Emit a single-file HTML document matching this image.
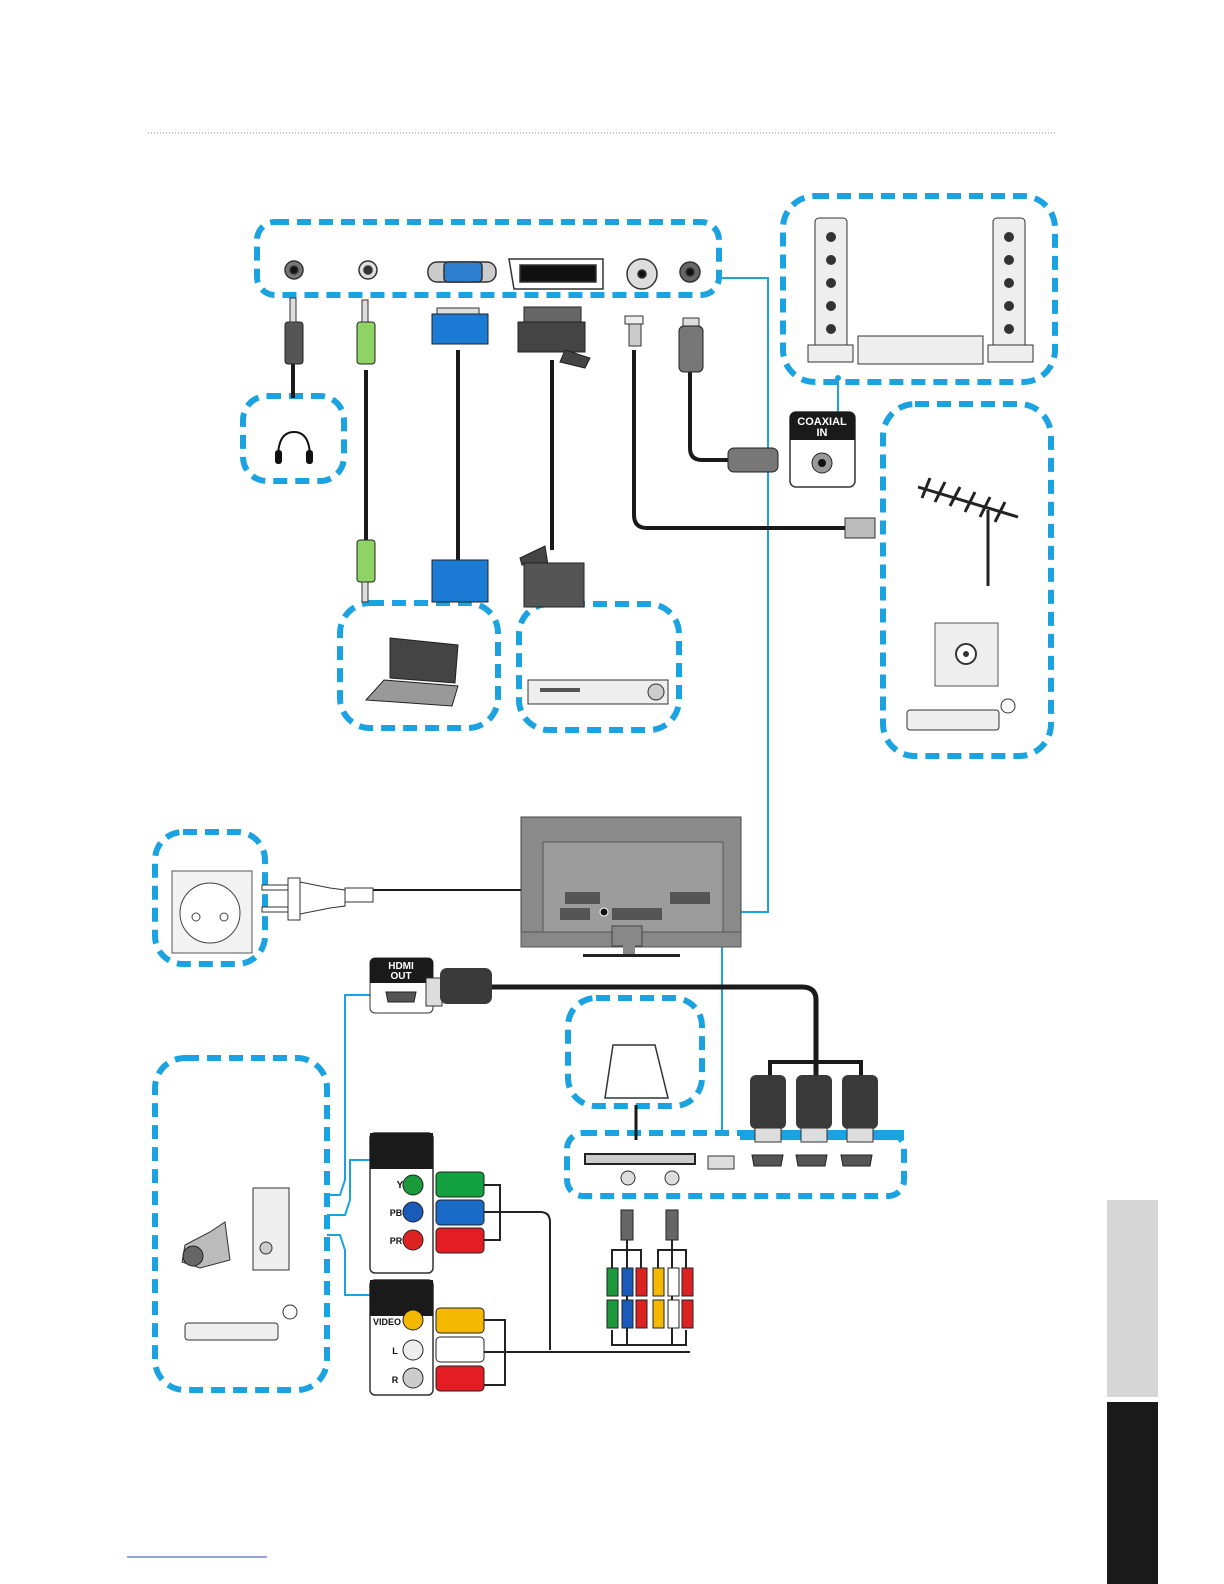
<!DOCTYPE html>
<html><head><meta charset="utf-8"><style>
html,body{margin:0;padding:0;background:#fff}
svg{display:block}
text{font-family:"Liberation Sans",sans-serif;font-weight:bold}
</style></head><body>
<svg width="1224" height="1584" viewBox="0 0 1224 1584" xmlns="http://www.w3.org/2000/svg">
<line x1="148" y1="133" x2="1056" y2="133" stroke="#888" stroke-width="1" stroke-dasharray="1,2"/>
<!-- side tabs -->
<rect x="1107" y="1200" width="51" height="197" fill="#d6d6d6"/>
<rect x="1107" y="1402" width="51" height="182" fill="#1a1a1a"/>
<line x1="127" y1="1557" x2="267" y2="1557" stroke="#2a4ab0" stroke-width="1"/>

<g fill="none" stroke="#1aa3e0" stroke-width="6" stroke-dasharray="14,8">
<rect x="257" y="222" width="462" height="73" rx="18"/>
<rect x="783" y="196" width="272" height="186" rx="32"/>
<rect x="243" y="396" width="101" height="85" rx="24"/>
<rect x="340" y="603" width="158" height="125" rx="30"/>
<rect x="519" y="604" width="160" height="126" rx="30"/>
<rect x="883" y="404" width="168" height="352" rx="32"/>
<rect x="155" y="832" width="110" height="132" rx="28"/>
<rect x="568" y="998" width="134" height="108" rx="28"/>
<rect x="155" y="1058" width="172" height="332" rx="30"/>
<rect x="567" y="1133" width="337" height="63" rx="16"/>
</g>
<rect x="740" y="1130" width="164" height="10" fill="#1aa3e0"/>

<!-- thin blue connectors -->
<g fill="none" stroke="#1aa3e0" stroke-width="2">
<polyline points="720,278 768,278 768,912 722,912"/>
<line x1="838" y1="378" x2="838" y2="412"/>
<line x1="722" y1="912" x2="722" y2="1135"/>
<polyline points="327,1195 340,1195 345,1180 345,995 370,995"/>
<polyline points="327,1215 345,1215 350,1200 350,1160 370,1160"/>
<polyline points="327,1235 340,1235 345,1250 345,1295 370,1295"/>
<rect x="675" y="910" width="48" height="16" stroke-dasharray="5,3" stroke-width="3"/>
<rect x="713" y="855" width="14" height="55" stroke-dasharray="5,3" stroke-width="3"/>
</g>
<circle cx="838" cy="378" r="3" fill="#1aa3e0"/>

<!-- top ports -->
<g stroke="#333" stroke-width="1.5">
<circle cx="294" cy="270" r="9" fill="#777"/><circle cx="294" cy="270" r="4" fill="#111"/>
<circle cx="368" cy="270" r="9" fill="#ddd"/><circle cx="368" cy="270" r="4" fill="#333"/>
<rect x="428" y="262" width="68" height="20" rx="9" fill="#ccc"/>
<rect x="444" y="262" width="38" height="20" rx="4" fill="#2f7fd0"/>
<path d="M509,259 L603,259 L603,289 L514,289 Z" fill="#fff"/>
<rect x="520" y="265" width="76" height="17" fill="#111"/>
<circle cx="642" cy="274" r="15" fill="#ddd"/><circle cx="642" cy="274" r="4" fill="#111"/>
<circle cx="690" cy="272" r="10" fill="#666"/><circle cx="690" cy="272" r="4" fill="#111"/>
</g>

<!-- cables top -->
<g stroke="#1a1a1a" stroke-width="4" fill="none">
<line x1="293" y1="360" x2="293" y2="398"/>
<line x1="366" y1="370" x2="366" y2="540"/>
<line x1="458" y1="350" x2="458" y2="560"/>
<line x1="552" y1="360" x2="552" y2="550"/>
<path d="M634,350 L634,515 Q634,528 647,528 L845,528"/>
<path d="M690,370 L690,448 Q690,460 702,460 L730,460"/>
<line x1="370" y1="890" x2="598" y2="890" stroke-width="2"/>
<path d="M598,890 Q604,890 604,896 L604,912" stroke-width="2"/>
<path d="M490,987 L802,987 Q816,987 816,1000 L816,1080" stroke-width="5"/>
<path d="M770,1080 L770,1062 L861,1062 L861,1080" stroke-width="4"/>
<line x1="636" y1="1105" x2="636" y2="1140" stroke-width="3"/>
</g>
<!-- headphone jack -->
<rect x="285" y="322" width="18" height="42" rx="3" fill="#555" stroke="#222"/>
<rect x="290" y="298" width="6" height="24" fill="#ddd" stroke="#333"/>
<!-- green jacks -->
<rect x="357" y="322" width="18" height="42" rx="3" fill="#8fd364" stroke="#222"/>
<rect x="362" y="300" width="6" height="22" fill="#ddd" stroke="#333"/>
<rect x="357" y="540" width="18" height="42" rx="3" fill="#8fd364" stroke="#222"/>
<rect x="362" y="582" width="6" height="20" fill="#ddd" stroke="#333"/>
<!-- VGA -->
<rect x="437" y="308" width="42" height="8" fill="#ddd" stroke="#333"/>
<rect x="432" y="314" width="56" height="30" fill="#1a7ad4" stroke="#222"/>
<rect x="432" y="560" width="56" height="42" fill="#1a7ad4" stroke="#222"/>
<!-- SCART -->
<rect x="524" y="307" width="57" height="18" fill="#666" stroke="#222"/>
<rect x="518" y="322" width="67" height="30" fill="#444" stroke="#222"/>
<polygon points="565,350 590,358 585,368 560,362" fill="#444" stroke="#222"/>
<polygon points="520,558 545,546 548,565 522,565" fill="#444" stroke="#222"/>
<rect x="524" y="563" width="60" height="44" fill="#555" stroke="#222"/>
<!-- coax plugs -->
<rect x="629" y="316" width="12" height="30" fill="#ccc" stroke="#333"/>
<rect x="625" y="316" width="18" height="8" fill="#eee" stroke="#333"/>
<rect x="683" y="318" width="16" height="12" fill="#ddd" stroke="#333"/>
<rect x="679" y="326" width="24" height="46" rx="5" fill="#777" stroke="#222"/>
<rect x="728" y="448" width="50" height="24" rx="6" fill="#777" stroke="#222"/>
<rect x="845" y="518" width="30" height="20" fill="#bbb" stroke="#333"/>
<!-- coaxial in box -->
<rect x="790" y="412" width="65" height="75" rx="6" fill="#fff" stroke="#333" stroke-width="1.5"/>
<path d="M790,418 Q790,412 796,412 L849,412 Q855,412 855,418 L855,440 L790,440 Z" fill="#1a1a1a"/>
<text x="822" y="425" font-size="11" fill="#fff" text-anchor="middle">COAXIAL</text>
<text x="822" y="436" font-size="11" fill="#fff" text-anchor="middle">IN</text>
<circle cx="822" cy="463" r="10" fill="#999" stroke="#222"/><circle cx="822" cy="463" r="4" fill="#111"/>

<!-- headphones -->
<path d="M278,458 Q278,432 294,432 Q310,432 310,458" fill="none" stroke="#111" stroke-width="2"/>
<rect x="275" y="450" width="7" height="14" rx="3" fill="#111"/><rect x="306" y="450" width="7" height="14" rx="3" fill="#111"/>

<!-- speakers -->
<g stroke="#333" fill="#eee">
<rect x="815" y="218" width="32" height="130" rx="4"/>
<rect x="993" y="218" width="32" height="130" rx="4"/>
<rect x="808" y="345" width="45" height="17"/>
<rect x="988" y="345" width="45" height="17"/>
<rect x="858" y="336" width="125" height="28"/>
</g>
<g fill="#333">
<circle cx="831" cy="237" r="5"/><circle cx="831" cy="260" r="5"/><circle cx="831" cy="283" r="5"/><circle cx="831" cy="306" r="5"/><circle cx="831" cy="329" r="5"/>
<circle cx="1009" cy="237" r="5"/><circle cx="1009" cy="260" r="5"/><circle cx="1009" cy="283" r="5"/><circle cx="1009" cy="306" r="5"/><circle cx="1009" cy="329" r="5"/>
</g>

<!-- laptop -->
<polygon points="390,638 458,645 455,683 390,678" fill="#444" stroke="#222"/>
<polygon points="384,680 458,686 452,706 366,700" fill="#999" stroke="#222"/>
<!-- dvd -->
<rect x="528" y="680" width="140" height="24" fill="#eee" stroke="#333"/>
<circle cx="656" cy="692" r="8" fill="#ccc" stroke="#333"/>
<rect x="540" y="688" width="40" height="4" fill="#555"/>

<!-- antenna -->
<g stroke="#222" stroke-width="3">
<line x1="918" y1="487" x2="1018" y2="517"/>
<line x1="988" y1="510" x2="988" y2="586"/>
<line x1="930" y1="478" x2="922" y2="498"/><line x1="945" y1="482" x2="935" y2="502"/><line x1="960" y1="487" x2="950" y2="506"/><line x1="975" y1="492" x2="965" y2="512"/><line x1="990" y1="497" x2="980" y2="517"/><line x1="1005" y1="502" x2="995" y2="522"/>
</g>
<rect x="935" y="623" width="63" height="63" fill="#eee" stroke="#555"/>
<circle cx="966" cy="654" r="10" fill="#fff" stroke="#333" stroke-width="2"/><circle cx="966" cy="654" r="3" fill="#333"/>
<rect x="907" y="710" width="92" height="20" rx="3" fill="#eee" stroke="#333"/>
<circle cx="1008" cy="706" r="7" fill="none" stroke="#333"/>

<!-- socket -->
<rect x="172" y="871" width="80" height="82" fill="#f2f2f2" stroke="#555"/>
<circle cx="210" cy="913" r="30" fill="#fff" stroke="#444"/>
<circle cx="196" cy="917" r="4" fill="none" stroke="#444"/><circle cx="224" cy="917" r="4" fill="none" stroke="#444"/>
<!-- plug -->
<rect x="262" y="885" width="30" height="5" fill="#fff" stroke="#333"/>
<rect x="262" y="907" width="30" height="5" fill="#fff" stroke="#333"/>
<rect x="288" y="878" width="12" height="42" fill="#fff" stroke="#333"/>
<path d="M300,882 L330,888 L345,890 L345,906 L330,908 L300,914 Z" fill="#fff" stroke="#333"/>
<rect x="345" y="888" width="28" height="14" fill="#fff" stroke="#333"/>

<!-- TV -->
<rect x="521" y="817" width="220" height="130" fill="#8a8a8a" stroke="#444"/>
<rect x="543" y="842" width="180" height="92" fill="#9c9c9c" stroke="#555"/>
<rect x="521" y="932" width="220" height="15" fill="#888" stroke="#555"/>
<rect x="612" y="926" width="30" height="20" fill="#888" stroke="#444"/>
<rect x="623" y="945" width="12" height="10" fill="#888"/>
<rect x="583" y="954" width="97" height="3" fill="#222"/>
<rect x="560" y="908" width="30" height="12" fill="#555"/><rect x="612" y="908" width="50" height="12" fill="#555"/><rect x="670" y="892" width="40" height="12" fill="#555"/><rect x="565" y="892" width="35" height="12" fill="#555"/>
<circle cx="604" cy="912" r="4" fill="#111" stroke="#fff"/>

<!-- HDMI OUT -->
<rect x="370" y="958" width="63" height="55" rx="5" fill="#fff" stroke="#333"/>
<path d="M370,963 Q370,958 375,958 L428,958 Q433,958 433,963 L433,983 L370,983 Z" fill="#1a1a1a"/>
<text x="401" y="969" font-size="10" fill="#fff" text-anchor="middle">HDMI</text>
<text x="401" y="979" font-size="10" fill="#fff" text-anchor="middle">OUT</text>
<path d="M386,992 L416,992 L414,1002 L388,1002 Z" fill="#555" stroke="#222"/>
<rect x="426" y="978" width="16" height="28" fill="#ddd" stroke="#333"/>
<rect x="440" y="968" width="52" height="36" rx="7" fill="#3a3a3a"/>

<!-- 3 HDMI plugs -->
<g>
<rect x="750" y="1075" width="36" height="54" rx="6" fill="#3a3a3a"/><rect x="755" y="1128" width="26" height="14" fill="#ddd" stroke="#333"/>
<rect x="796" y="1075" width="36" height="54" rx="6" fill="#3a3a3a"/><rect x="801" y="1128" width="26" height="14" fill="#ddd" stroke="#333"/>
<rect x="842" y="1075" width="36" height="54" rx="6" fill="#3a3a3a"/><rect x="847" y="1128" width="26" height="14" fill="#ddd" stroke="#333"/>
</g>
<!-- card -->
<polygon points="613,1045 655,1045 668,1098 605,1098" fill="#fff" stroke="#333" stroke-width="1.5"/>
<!-- bottom panel ports -->
<rect x="585" y="1154" width="110" height="10" fill="#ccc" stroke="#222" stroke-width="2"/>
<circle cx="628" cy="1178" r="7" fill="#ddd" stroke="#333"/><circle cx="672" cy="1178" r="7" fill="#ddd" stroke="#333"/>
<rect x="708" y="1156" width="26" height="13" fill="#ddd" stroke="#333"/>
<path d="M752,1155 L783,1155 L781,1166 L754,1166 Z" fill="#555" stroke="#222"/>
<path d="M796,1155 L827,1155 L825,1166 L798,1166 Z" fill="#555" stroke="#222"/>
<path d="M841,1155 L872,1155 L870,1166 L843,1166 Z" fill="#555" stroke="#222"/>
<!-- jack splitters -->
<rect x="621" y="1210" width="12" height="30" fill="#666" stroke="#222"/>
<rect x="666" y="1210" width="12" height="30" fill="#666" stroke="#222"/>
<g stroke="#222" stroke-width="2" fill="none">
<path d="M612,1270 L612,1250 L641,1250 L641,1270 M627,1240 L627,1345"/>
<path d="M658,1270 L658,1250 L686,1250 L686,1270 M672,1240 L672,1345"/>
<path d="M612,1330 L612,1345 L686,1345 L686,1330"/>
<path d="M484,1185 L500,1185 L500,1240 L484,1240 M484,1212 L540,1212 Q550,1212 550,1222 L550,1350"/>
<path d="M484,1320 L505,1320 L505,1385 L484,1385 M484,1352 L690,1352"/>
</g>
<g stroke="#222">
<rect x="607" y="1268" width="11" height="28" fill="#1a9a3a"/><rect x="622" y="1268" width="11" height="28" fill="#1a5ab8"/><rect x="636" y="1268" width="11" height="28" fill="#dd2222"/>
<rect x="607" y="1300" width="11" height="28" fill="#1a9a3a"/><rect x="622" y="1300" width="11" height="28" fill="#1a5ab8"/><rect x="636" y="1300" width="11" height="28" fill="#dd2222"/>
<rect x="653" y="1268" width="11" height="28" fill="#f5b800"/><rect x="668" y="1268" width="11" height="28" fill="#fff"/><rect x="682" y="1268" width="11" height="28" fill="#dd2222"/>
<rect x="653" y="1300" width="11" height="28" fill="#f5b800"/><rect x="668" y="1300" width="11" height="28" fill="#fff"/><rect x="682" y="1300" width="11" height="28" fill="#dd2222"/>
</g>
<!-- component box -->
<rect x="370" y="1133" width="63" height="140" rx="5" fill="#fff" stroke="#333" stroke-width="1.5"/>
<rect x="370" y="1133" width="63" height="36" fill="#1a1a1a"/>
<text x="400" y="1188" font-size="10" fill="#111" text-anchor="middle">Y</text>
<text x="396" y="1216" font-size="9" fill="#111" text-anchor="middle">PB</text>
<text x="396" y="1244" font-size="9" fill="#111" text-anchor="middle">PR</text>
<circle cx="413" cy="1185" r="10" fill="#1a9a3a" stroke="#222"/>
<circle cx="413" cy="1212" r="10" fill="#1a5ab8" stroke="#222"/>
<circle cx="413" cy="1240" r="10" fill="#dd2222" stroke="#222"/>
<rect x="436" y="1172" width="48" height="25" rx="4" fill="#12a040" stroke="#222"/>
<rect x="436" y="1200" width="48" height="25" rx="4" fill="#1a6ac8" stroke="#222"/>
<rect x="436" y="1228" width="48" height="25" rx="4" fill="#e41c24" stroke="#222"/>
<!-- AV box -->
<rect x="370" y="1280" width="63" height="115" rx="5" fill="#fff" stroke="#333" stroke-width="1.5"/>
<rect x="370" y="1280" width="63" height="36" fill="#1a1a1a"/>
<text x="387" y="1325" font-size="9" fill="#111" text-anchor="middle">VIDEO</text>
<text x="395" y="1354" font-size="9" fill="#111" text-anchor="middle">L</text>
<text x="395" y="1383" font-size="9" fill="#111" text-anchor="middle">R</text>
<circle cx="413" cy="1320" r="10" fill="#f5b800" stroke="#222"/>
<circle cx="413" cy="1350" r="10" fill="#eee" stroke="#222"/>
<circle cx="413" cy="1378" r="10" fill="#ccc" stroke="#222"/>
<rect x="436" y="1308" width="48" height="25" rx="4" fill="#f5b800" stroke="#222"/>
<rect x="436" y="1337" width="48" height="25" rx="4" fill="#fff" stroke="#222"/>
<rect x="436" y="1366" width="48" height="25" rx="4" fill="#e41c24" stroke="#222"/>
<!-- left devices -->
<rect x="253" y="1188" width="36" height="82" fill="#eee" stroke="#333"/>
<circle cx="266" cy="1248" r="6" fill="#ccc" stroke="#333"/>
<path d="M185,1245 L210,1232 L225,1222 L230,1260 L200,1268 L182,1262 Z" fill="#bbb" stroke="#333"/>
<circle cx="193" cy="1256" r="10" fill="#666" stroke="#222"/>
<rect x="185" y="1323" width="93" height="17" rx="3" fill="#eee" stroke="#333"/>
<circle cx="290" cy="1312" r="7" fill="none" stroke="#333"/>
</svg>
</body></html>
